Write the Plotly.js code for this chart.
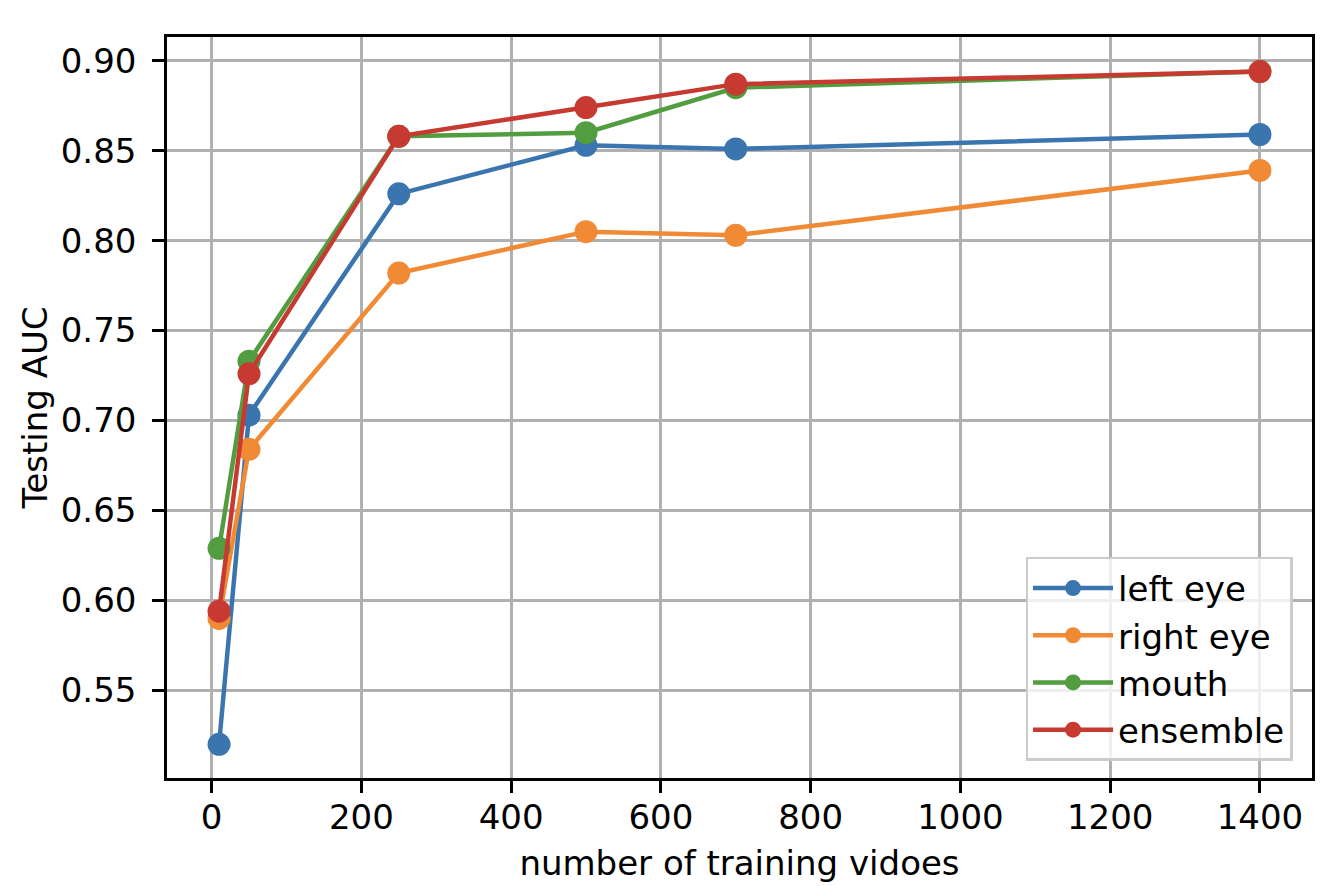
<!DOCTYPE html>
<html>
<head>
<meta charset="utf-8">
<script src="https://cdn.plot.ly/plotly-3.0.1.min.js"></script>
<style>
  html, body { margin: 0; padding: 0; background: #fff; }
  #chart { width: 1326px; height: 886px; }
</style>
</head>
<body>
<div id="chart"></div>
<script>
// training set sizes
var nVideos = [10, 50, 250, 500, 700, 1400];

// testing AUC per region
var leftEye  = [0.520, 0.703, 0.826, 0.853, 0.851, 0.859];
var rightEye = [0.590, 0.684, 0.782, 0.805, 0.803, 0.839];
var mouth    = [0.629, 0.733, 0.858, 0.860, 0.885, 0.894];
var ensemble = [0.594, 0.726, 0.858, 0.874, 0.887, 0.894];

var names  = ['left eye', 'right eye', 'mouth', 'ensemble'];
var colors = ['#3a75b0', '#f08a35', '#529d3f', '#c63a31'];
var series = [leftEye, rightEye, mouth, ensemble];

var data = series.map(function (ys, i) {
  return {
    x: nVideos,
    y: ys,
    name: names[i],
    type: 'scatter',
    mode: 'lines+markers',
    line: {color: colors[i], width: 4.5},
    marker: {color: colors[i], size: 23}
  };
});

var font34 = {family: 'DejaVu Sans', size: 34, color: '#000'};

var layout = {
  width: 1326,
  height: 886,
  margin: {l: 167, r: 14, t: 37, b: 108},
  paper_bgcolor: '#fff',
  plot_bgcolor: '#fff',
  font: font34,
  showlegend: true,
  xaxis: {
    range: [-59.5, 1469.5],
    tickvals: [0, 200, 400, 600, 800, 1000, 1200, 1400],
    ticks: 'outside', ticklen: 12, tickwidth: 2.5, tickcolor: '#000',
    ticklabelstandoff: -5,
    showgrid: true, gridcolor: '#b0b0b0', gridwidth: 2.5,
    zeroline: false,
    showline: true, linecolor: '#000', linewidth: 2.5, mirror: true,
    tickfont: font34,
    title: {text: 'number of training vidoes', font: font34, standoff: 16}
  },
  yaxis: {
    range: [0.5013, 0.9132],
    tickvals: [0.55, 0.60, 0.65, 0.70, 0.75, 0.80, 0.85, 0.90],
    tickformat: '.2f',
    ticks: 'outside', ticklen: 12, tickwidth: 2.5, tickcolor: '#000',
    ticklabelstandoff: 9,
    showgrid: true, gridcolor: '#b0b0b0', gridwidth: 2.5,
    zeroline: false,
    showline: true, linecolor: '#000', linewidth: 2.5, mirror: true,
    tickfont: font34,
    title: {text: 'Testing AUC', font: font34, standoff: 3}
  },
  legend: {
    x: 0.983, y: 0.023, xanchor: 'right', yanchor: 'bottom',
    bgcolor: 'rgba(255,255,255,0.8)',
    bordercolor: '#cccccc', borderwidth: 2.5,
    font: font34,
    itemwidth: 80
  }
};

Plotly.newPlot('chart', data, layout, {displayModeBar: false});
</script>
</body>
</html>
